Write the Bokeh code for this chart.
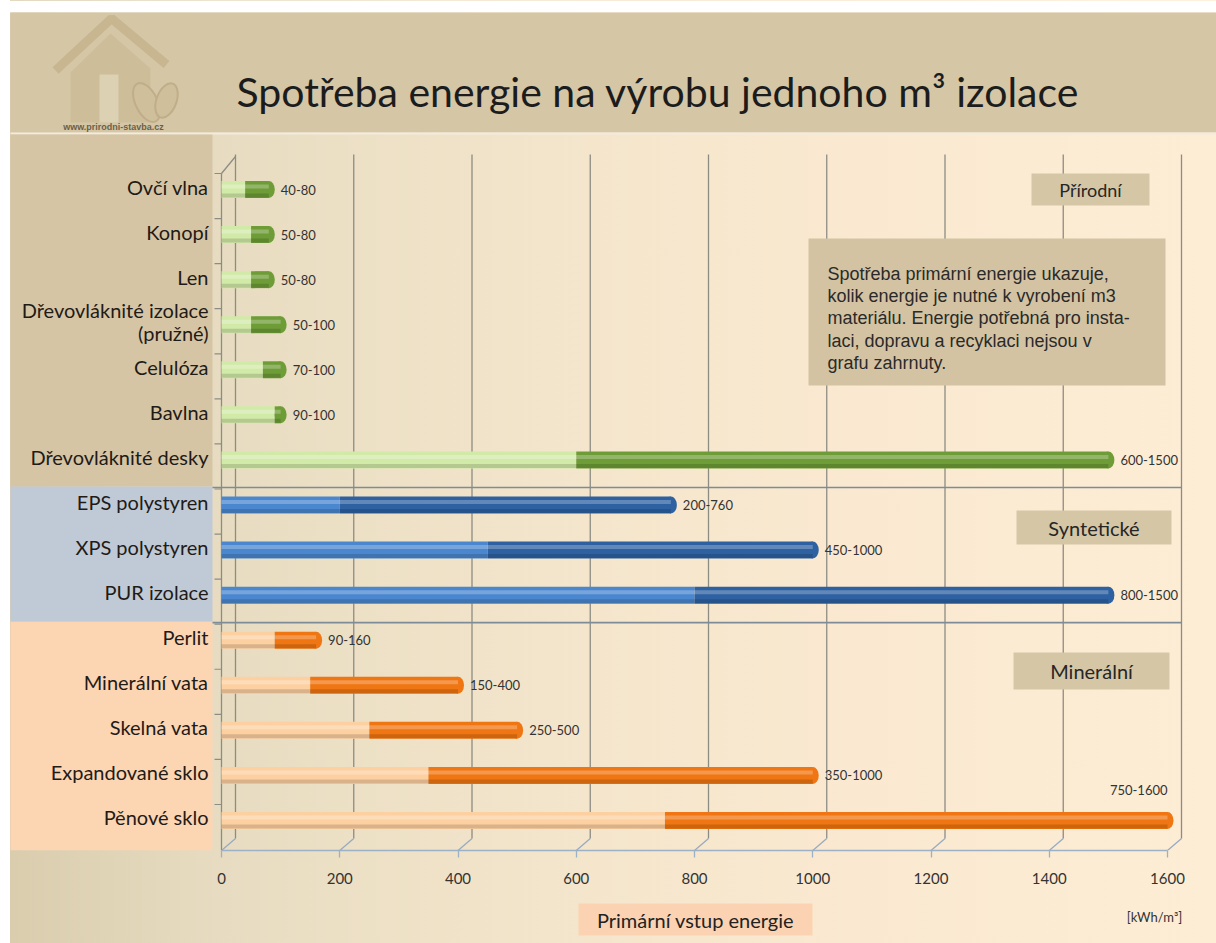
from bokeh.plotting import figure
from bokeh.layouts import column
from bokeh.models import Range1d, FixedTicker, BoxAnnotation, ColumnDataSource
from bokeh.core.properties import value
from bokeh.embed import file_html
from bokeh.resources import INLINE

# ---------------- data ----------------
materials = ["Ovčí vlna", "Konopí", "Len", "Dřevovláknité izolace\n(pružné)", "Celulóza",
             "Bavlna", "Dřevovláknité desky", "EPS polystyren", "XPS polystyren", "PUR izolace",
             "Perlit", "Minerální vata", "Skelná vata", "Expandované sklo", "Pěnové sklo"]
groups = ["Přírodní"] * 7 + ["Syntetické"] * 3 + ["Minerální"] * 5
energy_low = [40, 50, 50, 50, 70, 90, 600, 200, 450, 800, 90, 150, 250, 350, 750]
energy_high = [80, 80, 80, 100, 100, 100, 1500, 760, 1000, 1500, 160, 400, 500, 1000, 1600]
x_ticks = [0, 200, 400, 600, 800, 1000, 1200, 1400, 1600]
group_names = ["Přírodní", "Syntetické", "Minerální"]
title_text = "Spotřeba energie na výrobu jednoho m³ izolace"
axis_title = "Primární vstup energie"
unit_text = "[kWh/m³]"
note_lines = ["Spotřeba primární energie ukazuje,",
              "kolik energie je nutné k vyrobení m3",
              "materiálu. Energie potřebná pro insta-",
              "laci, dopravu a recyklaci  nejsou v",
              "grafu zahrnuty."]
logo_text = "www.prirodni-stavba.cz"

# ---------------- styling ----------------
light_col = {"Přírodní": "#d2eaa8", "Syntetické": "#4a87cf", "Minerální": "#fdd0a2"}
dark_col = {"Přírodní": "#6e9d37", "Syntetické": "#2e61a2", "Minerální": "#ef7612"}
panel_col = {"Přírodní": "#d5c5a5", "Syntetické": "#bfcad6", "Minerální": "#fcd5b3"}
TAN = "#d5c6a6"
FONT = "Lato"
BG = {"background": "linear-gradient(90deg, #ffffff 0px, #ffffff 10px, #dacdae 10px, "
                    "#e7dcc1 18%, #f3e5cb 45%, #fae9d0 70%, #fdedd5 100%)"}

# ---------------- geometry (pixels of the reference; decoration only) ----------------
W, H = 1216, 943
X0_PX, PX_PER_UNIT = 221.0, 0.59125
ROW0_PX, ROW_PX = 189.0, 45.07
FRAME_BOTTOM_PX = 850
TOP_H = 895
BAR_PX = 17
n = len(materials)


def X(px):
    return (px - X0_PX) / PX_PER_UNIT


def Y(py):
    return (ROW0_PX + (n - 1) * ROW_PX - py) / ROW_PX


def DX(px):
    return px / PX_PER_UNIT


def DY(py):
    return py / ROW_PX


ys = [n - 1 - i for i in range(n)]

p = figure(width=W, height=TOP_H,
           x_range=Range1d(X(0), X(W)),
           y_range=Range1d(Y(FRAME_BOTTOM_PX), Y(0)),
           output_backend="svg", toolbar_location=None, y_axis_location=None,
           min_border_left=0, min_border_right=0, min_border_top=0,
           min_border_bottom=TOP_H - FRAME_BOTTOM_PX)
p.grid.visible = False
p.outline_line_color = None
p.border_fill_color = None
p.background_fill_color = None
p.styles = BG

# white top margin, header
p.add_layout(BoxAnnotation(bottom=Y(12), fill_color="white", fill_alpha=1, line_color=None, level="underlay"))
p.add_layout(BoxAnnotation(left=X(10), top=Y(12), bottom=Y(132), fill_color=TAN, fill_alpha=1,
                           line_color=None, level="underlay"))
p.add_layout(BoxAnnotation(left=X(10), bottom=Y(134), top=Y(132), fill_color="#f2ece0", fill_alpha=1,
                           line_color=None, level="underlay"))

# left coloured panels per group
first_idx = [groups.index(g) for g in group_names]
last_idx = [len(groups) - 1 - groups[::-1].index(g) for g in group_names]
bounds = [Y(134)]
for gi in range(len(group_names) - 1):
    bounds.append((ys[last_idx[gi]] + ys[first_idx[gi + 1]]) / 2 - DY(4))
bounds.append(None)
for gi, g in enumerate(group_names):
    p.add_layout(BoxAnnotation(left=X(10), right=X(212), top=bounds[gi], bottom=bounds[gi + 1],
                               fill_color=panel_col[g], fill_alpha=1, line_color=None, level="underlay"))

# logo (faint house)
p.patch([X(70), X(70), X(110), X(150), X(150)], [Y(122), Y(72), Y(33), Y(68), Y(122)],
        fill_color="#cdbd99", line_color=None)
p.multi_line([[X(55), X(111), X(166)]], [[Y(70), Y(18), Y(64)]], line_color="#c8b691", line_width=9)
p.quad(left=[X(99)], right=[X(118)], top=[Y(74)], bottom=[Y(122)], fill_color="#ddd1b3", line_color=None)
p.ellipse(x=[X(146), X(166)], y=[Y(102), Y(100)], width=[22, 20], height=[42, 36],
          width_units="screen", height_units="screen", angle=[0.45, -0.35],
          fill_color="#cfbf9b", line_color="#c0ae89", line_width=2)
p.text(x=[X(113)], y=[Y(126)], text=[logo_text], text_align="center", text_baseline="middle",
       text_font=value("Liberation Sans"), text_font_size="9px", text_font_style="bold", text_color="#6d5f45")

# title
p.text(x=[X(236)], y=[Y(91)], text=[title_text], text_align="left", text_baseline="middle",
       text_font=value(FONT), text_font_size="41px", text_color="#1c1c1c")

# 3D grid: back-wall verticals + floor diagonals
depth = DX(14)
p.segment(x0=[t + depth for t in x_ticks], y0=[Y(154)] * len(x_ticks),
          x1=[t + depth for t in x_ticks], y1=[Y(838)] * len(x_ticks),
          line_color="#8d8c84", line_width=1.3)
p.segment(x0=[t + depth for t in x_ticks], y0=[Y(838)] * len(x_ticks),
          x1=x_ticks, y1=[Y(FRAME_BOTTOM_PX)] * len(x_ticks),
          line_color="#98aac0", line_width=1.3)
# front (category) axis line with ticks
p.segment(x0=[x_ticks[0]], y0=[ys[0] + DY(16)], x1=[x_ticks[0]], y1=[Y(FRAME_BOTTOM_PX)],
          line_color="#8d8c84", line_width=1.3)
p.segment(x0=[x_ticks[0]], y0=[ys[0] + DY(16)], x1=[x_ticks[0] + depth], y1=[Y(156)],
          line_color="#8d8c84", line_width=1.3)
p.segment(x0=[x_ticks[0] - DX(7)] * n, y0=[y + DY(16) for y in ys],
          x1=[x_ticks[0]] * n, y1=[y + DY(16) for y in ys], line_color="#8d8c84", line_width=1.2)

# group separators
sep_y = [(ys[last_idx[gi]] + ys[first_idx[gi + 1]]) / 2 - DY(5) for gi in range(len(group_names) - 1)]
p.segment(x0=[X(212)] * len(sep_y), y0=sep_y, x1=[x_ticks[-1] + depth] * len(sep_y), y1=sep_y,
          line_color="#7e8b99", line_width=1.6)

# group boxes (drawn over the grid, under the text)
gbox = {"Přírodní": (1031, 1149, 173, 205, "18px"),
        "Syntetické": (1016, 1171, 510, 544, "20px"),
        "Minerální": (1013, 1169, 652, 689, "20px")}
for g in group_names:
    l, r, t, b, fs = gbox[g]
    p.quad(left=[X(l)], right=[X(r)], top=[Y(t)], bottom=[Y(b)], fill_color=TAN, line_color=None)
    p.text(x=[X((l + r) / 2)], y=[Y((t + b) / 2)], text=[g], text_align="center", text_baseline="middle",
           text_font=value(FONT), text_font_size=fs, text_color="#262626")

# note box
p.quad(left=[X(808)], right=[X(1165)], top=[Y(238)], bottom=[Y(385)], fill_color="#d4c3a2", line_color=None)
p.text(x=[X(827)], y=[Y(263)], text=["\n".join(note_lines)], text_align="left", text_baseline="top",
       text_font=value("Liberation Sans"), text_font_size="18px", text_line_height=1.12, text_color="#2a2a2a")

# bars
src = ColumnDataSource(dict(
    y=ys, zero=[0] * n, lo=energy_low, hi=energy_high,
    light=[light_col[g] for g in groups], dark=[dark_col[g] for g in groups],
    hl=[y + DY(3) for y in ys], sh=[y - DY(6) for y in ys],
    name=materials,
    label=[f"{a}-{b}" for a, b in zip(energy_low, energy_high)],
    lab_xoff=[0 if b >= x_ticks[-1] else 12 for b in energy_high],
    lab_yoff=[-30 if b >= x_ticks[-1] else 0 for b in energy_high],
    lab_align=["right" if b >= x_ticks[-1] else "left" for b in energy_high],
))
bar_h = DY(BAR_PX)
p.hbar(y="y", left="zero", right="lo", height=bar_h, fill_color="light", line_color=None, source=src)
p.hbar(y="y", left="lo", right="hi", height=bar_h, fill_color="dark", line_color=None, source=src)
p.ellipse(x="hi", y="y", width=12, height=BAR_PX, width_units="screen", height_units="screen",
          fill_color="dark", line_color=None, source=src)
# cylinder shading
p.hbar(y="hl", left="zero", right="hi", height=DY(4), fill_color="white", fill_alpha=0.25,
       line_color=None, source=src)
p.hbar(y="sh", left="zero", right="hi", height=DY(4), fill_color="black", fill_alpha=0.14,
       line_color=None, source=src)

# value labels
p.text(x="hi", y="y", text="label", x_offset="lab_xoff", y_offset="lab_yoff", text_align="lab_align",
       text_baseline="middle", text_font=value(FONT), text_font_size="13px", text_color="#333333", source=src)

# category labels
p.text(x=X(208), y="y", text="name", y_offset=-3, text_align="right", text_baseline="middle",
       text_font=value(FONT), text_font_size="20px", text_line_height=0.95, text_color="#1f1b17", source=src)

# x axis
ax = p.xaxis[0]
ax.ticker = FixedTicker(ticks=x_ticks)
ax.bounds = (x_ticks[0], x_ticks[-1])
ax.axis_line_color = "#9cb0c6"
ax.axis_line_width = 1.6
ax.major_tick_line_color = "#9cb0c6"
ax.major_tick_line_width = 1.3
ax.major_tick_out = 7
ax.major_tick_in = 0
ax.minor_tick_line_color = None
ax.major_label_standoff = 15
ax.major_label_text_font = FONT
ax.major_label_text_font_size = "15px"
ax.major_label_text_color = "#333333"

# bottom strip: axis caption box and unit (y in pixels from the strip top)
p2 = figure(width=W, height=H - TOP_H, x_range=p.x_range, y_range=Range1d(H - TOP_H, 0),
            output_backend="svg", toolbar_location=None, x_axis_location=None, y_axis_location=None,
            min_border=0)
p2.grid.visible = False
p2.outline_line_color = None
p2.border_fill_color = None
p2.background_fill_color = None
p2.styles = BG
p2.quad(left=[X(578)], right=[X(812)], top=[903 - TOP_H], bottom=[935 - TOP_H],
        fill_color="#fcd3b2", line_color=None)
p2.text(x=[X(695)], y=[919 - TOP_H], text=[axis_title], text_align="center", text_baseline="middle",
        text_font=value(FONT), text_font_size="20px", text_color="#222222")
p2.text(x=[X(1154)], y=[916 - TOP_H], text=[unit_text], text_align="center", text_baseline="middle",
        text_font=value(FONT), text_font_size="13px", text_color="#333333")

layout = column(p, p2, spacing=0)
open("out.html", "w").write(file_html(layout, INLINE))
